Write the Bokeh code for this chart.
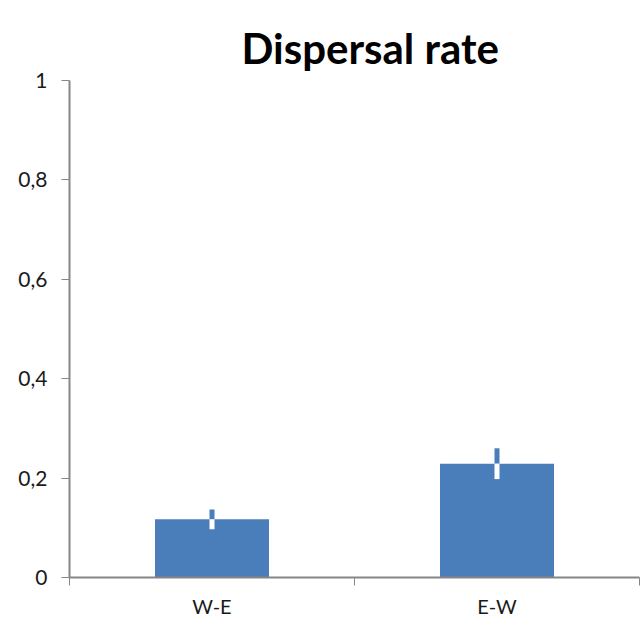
from bokeh.plotting import figure
from bokeh.models import FixedTicker, ColumnDataSource, Range1d
from bokeh.embed import file_html
from bokeh.resources import INLINE

categories = ["W-E", "E-W"]
rates = [0.117, 0.229]
errors = [0.02, 0.031]
y_ticks = [0, 0.2, 0.4, 0.6, 0.8, 1.0]
y_tick_labels = ["0", "0,2", "0,4", "0,6", "0,8", "1"]
title_text = "Dispersal rate"

FONT = "Lato"
BAR = "#4a7ebb"
AXIS = "#868686"

xs = [i + 0.5 for i in range(len(categories))]
src = ColumnDataSource(dict(
    x=xs, top=rates,
    hi=[r + e for r, e in zip(rates, errors)],
    lo=[r - e for r, e in zip(rates, errors)],
))

p = figure(width=642, height=621, output_backend="svg", toolbar_location=None,
           x_range=Range1d(0, len(categories)), y_range=Range1d(0, 1),
           min_border_left=69, min_border_right=3, min_border_top=80, min_border_bottom=44)

p.title.text = title_text
p.title.align = "left"
p.title.vertical_align = "middle"
p.title.text_font = FONT
p.title.text_font_style = "bold"
p.title.text_font_size = "42px"
p.title.text_color = "#000000"
p.title.offset = 172
p.title.standoff = 14

p.vbar(x="x", top="top", width=0.4, bottom=0, source=src, fill_color=BAR, line_color=None)
p.segment(x0="x", x1="x", y0="top", y1="hi", source=src, line_color=BAR, line_width=5, line_cap="butt")
p.segment(x0="x", x1="x", y0="lo", y1="top", source=src, line_color="white", line_width=5, line_cap="butt")

p.xgrid.visible = False
p.ygrid.visible = False
p.outline_line_color = None
p.background_fill_color = "white"
p.border_fill_color = "white"

xa = p.xaxis[0]
xa.ticker = FixedTicker(ticks=xs, minor_ticks=list(range(len(categories) + 1)))
xa.major_label_overrides = {x: c for x, c in zip(xs, categories)}
xa.major_tick_out = 0
xa.major_tick_in = 0
xa.minor_tick_out = 8
xa.minor_tick_in = 0
xa.minor_tick_line_color = AXIS
xa.axis_line_color = AXIS
xa.axis_line_width = 2
xa.major_label_standoff = 8
xa.major_label_text_font = FONT
xa.major_label_text_font_size = "20px"
xa.major_label_text_color = "#1a1a1a"

ya = p.yaxis[0]
ya.ticker = FixedTicker(ticks=y_ticks)
ya.major_label_overrides = {t: l for t, l in zip(y_ticks, y_tick_labels)}
ya.major_tick_out = 8
ya.major_tick_in = 0
ya.minor_tick_out = 0
ya.minor_tick_in = 0
ya.major_tick_line_color = AXIS
ya.axis_line_color = AXIS
ya.axis_line_width = 2
ya.major_label_standoff = 14
ya.major_label_text_font = FONT
ya.major_label_text_font_size = "21px"
ya.major_label_text_color = "#1a1a1a"

open("out.html", "w").write(file_html(p, INLINE))
